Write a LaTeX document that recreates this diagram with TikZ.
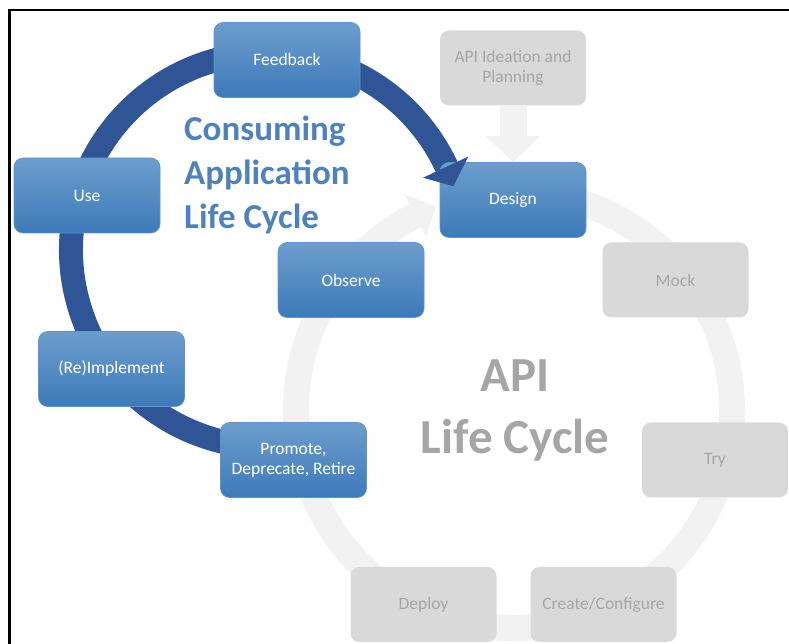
\documentclass[tikz,border=0pt]{standalone}
\usepackage{fontspec}
\setmainfont{Carlito}
\usetikzlibrary{arrows.meta}

\definecolor{bandblue}{RGB}{47,85,151}
\definecolor{boxtop}{RGB}{108,157,205}
\definecolor{boxmid}{RGB}{78,141,202}
\definecolor{boxbot}{RGB}{61,122,185}
\definecolor{boxedge}{RGB}{95,148,202}
\definecolor{titleblue}{RGB}{79,129,189}
\definecolor{boxgray}{RGB}{217,217,217}
\definecolor{txtgray}{RGB}{166,166,166}
\definecolor{bandgray}{RGB}{242,242,242}

\tikzset{
  phase/.style={rounded corners=9pt, minimum width=146pt, minimum height=75pt,
    align=center, inner sep=2pt, font=\fontsize{17.5}{20}\selectfont},
  bluephase/.style={phase, draw=boxedge, line width=0.6pt, top color=boxtop,
    middle color=boxmid, bottom color=boxbot, text=white},
  grayphase/.style={phase, fill=boxgray, text=txtgray},
}

\begin{document}
\begin{tikzpicture}[x=1pt,y=1pt]
  \useasboundingbox (0,0) rectangle (789,644);
  % frame
  \draw[line width=2.3pt] (9.5,-3) -- (9.5,634) -- (795,634);

  % API life cycle ring
  \begin{scope}[shift={(514,234)}]
    \draw[bandgray, line width=26pt] (80:218) arc[start angle=80, end angle=-243, radius=218];
    \fill[bandgray] (117:194) -- (117:242) -- (111:218) -- cycle;
  \end{scope}

  % consuming application ring
  \begin{scope}[shift={(268,394)}]
    \draw[bandblue, line width=24pt] (-75:197) arc[start angle=-75, end angle=-335, radius=197];
  \end{scope}

  \node[bluephase] (feedback) at (287,584) {Feedback};
  \node[bluephase] (use) at (87,448.5) {Use};
  \node[bluephase] (impl) at (111.5,275) {(Re)Implement};
  \node[bluephase] (promote) at (293.5,184) {Promote,\\Deprecate, Retire};
  \node[bluephase] (observe) at (351,364) {Observe};
  \node[bluephase] (design) at (513,444) {Design};

  \node[grayphase] (ideation) at (513,576) {API Ideation and\\Planning};
  \node[grayphase] (mock) at (675.5,364) {Mock};
  \node[grayphase] (try) at (715,184) {Try};
  \node[grayphase] (create) at (603.5,39.5) {Create/Configure};
  \node[grayphase] (deploy) at (423.5,39.5) {Deploy};

  \draw[bandgray, line width=27pt, -{Triangle[length=26pt,width=53pt]}] (ideation) -- (design);

  % arrow head of the blue ring lies over the design box
  \begin{scope}[shift={(268,394)}]
    \fill[bandblue] (25:171) -- (25:221) -- (19:196) -- cycle;
  \end{scope}

  % titles
  \node[titleblue, font=\fontsize{35}{44}\selectfont\bfseries, align=left,
    anchor=north west, inner sep=0pt] (apptitle) at (184,528)
    {Consuming\\Application\\Life Cycle};
  \node[txtgray, font=\fontsize{49}{62}\selectfont\bfseries, align=center,
    anchor=north, inner sep=0pt] (apititle) at (515,284) {API\\Life Cycle};
\end{tikzpicture}
\end{document}
